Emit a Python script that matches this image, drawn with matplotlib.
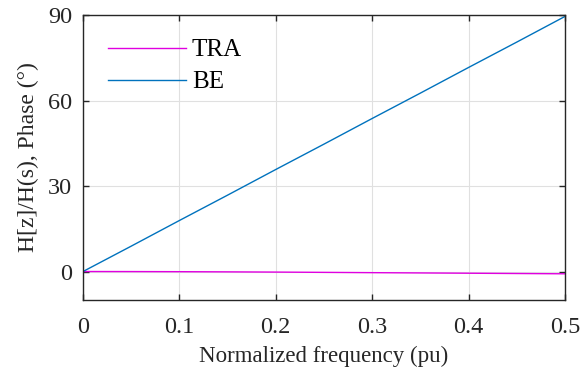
import matplotlib
matplotlib.use("Agg")
import matplotlib.pyplot as plt

freq = [0.0, 0.05, 0.1, 0.15, 0.2, 0.25, 0.3, 0.35, 0.4, 0.45, 0.5]
be_phase = [0.0, 8.9, 17.9, 26.8, 35.8, 44.7, 53.7, 62.6, 71.6, 80.5, 89.5]
tra_phase = [0.0, -0.02, -0.06, -0.12, -0.2, -0.3, -0.4, -0.5, -0.6, -0.7, -0.8]
xticks = [0, 0.1, 0.2, 0.3, 0.4, 0.5]
xticklabels = ["0", "0.1", "0.2", "0.3", "0.4", "0.5"]
yticks = [0, 30, 60, 90]

plt.rcParams['font.family'] = ['Liberation Serif', 'DejaVu Serif']
fig = plt.figure(figsize=(5.87, 3.78), dpi=100)
ax = fig.add_axes([0.1414, 0.2063, 0.8211, 0.754])
ax.plot(freq, tra_phase, color='#e000e0', lw=1.0, label='TRA')
ax.plot(freq, be_phase, color='#0072bd', lw=1.0, label='BE')
ax.set_xlim(0, 0.5)
ax.set_ylim(-10, 90)
ax.set_xticks(xticks)
ax.set_xticklabels(xticklabels)
ax.set_yticks(yticks)
ax.grid(True, color='#e0e0e0', lw=0.8)
ax.set_axisbelow(True)
ax.tick_params(direction='in', length=4, width=1, top=True, right=True, labelsize=17.5, colors='#262626')
ax.tick_params(axis='x', pad=12)
ax.tick_params(axis='y', pad=8)
for s in ax.spines.values():
    s.set_color('#262626')
    s.set_linewidth(1.0)
ax.set_xlabel('Normalized frequency (pu)', fontsize=16.5, color='#262626', labelpad=6)
ax.set_ylabel('H[z]/H(s), Phase (°)', fontsize=17, color='#262626', labelpad=6)
leg = ax.legend(loc='upper left', frameon=False, prop={'size': 18}, handlelength=3.1,
                handletextpad=0.25, borderpad=0, borderaxespad=0,
                bbox_to_anchor=(25/482, 0.916), labelspacing=0.38)
fig.savefig('out.png', dpi=100)
